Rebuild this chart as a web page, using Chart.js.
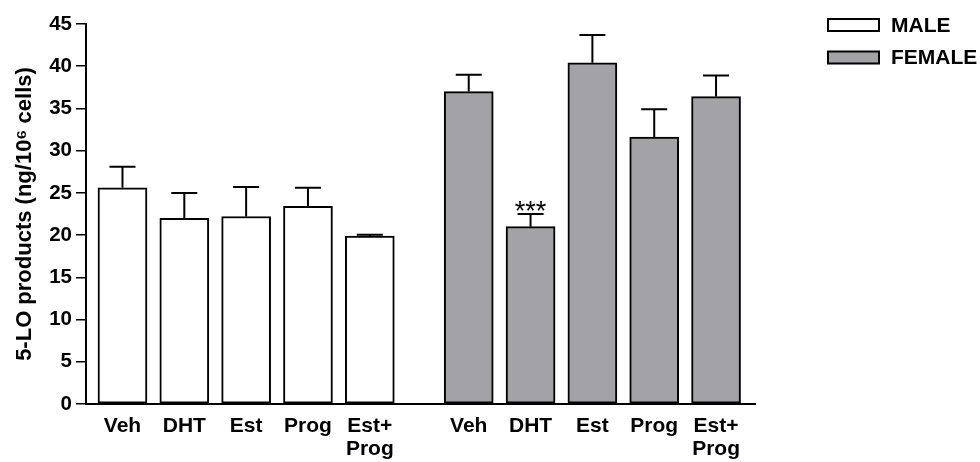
<!DOCTYPE html>
<html>
<head>
<meta charset="utf-8">
<title>5-LO products by treatment</title>
<script src="https://cdn.jsdelivr.net/npm/chart.js@4.4.0/dist/chart.umd.min.js"></script>
<style>
  body { margin: 0; background: #fff; }
  #wrap { width: 980px; height: 462px; }
</style>
</head>
<body>
<div id="wrap"><canvas id="myChart" width="980" height="462"></canvas></div>
<script>
// Treatments (tick labels) and measured values, mean + SEM
const treatments = ['Veh', 'DHT', 'Est', 'Prog', ['Est+', 'Prog']];
const maleMean = [25.6, 22.0, 22.2, 23.4, 19.9];
const maleSem = [2.5, 3.0, 3.5, 2.2, 0.15];
const femaleMean = [37.0, 21.0, 40.4, 31.6, 36.4];
const femaleSem = [2.0, 1.5, 3.3, 3.3, 2.5];
const femaleSig = ['', '***', '', '', ''];
const yTicks = [0, 5, 10, 15, 20, 25, 30, 35, 40, 45];

const FONT = "'Liberation Sans', Arial, sans-serif";
const FEMALE_GRAY = '#a3a2a7';
const GROUP_GAP = 0.6; // extra space between the male and female blocks

// bar positions on a linear x axis: male block, then female block
const malePos = treatments.map((t, i) => i);
const femalePos = treatments.map((t, i) => i + treatments.length + GROUP_GAP);
const allPos = malePos.concat(femalePos);

function labelAt(value) {
    const idx = allPos.findIndex(p => Math.abs(p - value) < 1e-6);
    if (idx < 0) return '';
    return treatments[idx % treatments.length];
}

// Upper error bars and significance marks
const errorBars = {
    id: 'errorBars',
    afterDatasetsDraw(chart) {
        const ctx = chart.ctx;
        const y = chart.scales.y;
        chart.data.datasets.forEach((ds, di) => {
            const meta = chart.getDatasetMeta(di);
            meta.data.forEach((bar, i) => {
                const top = y.getPixelForValue(ds.data[i].y);
                const cap = y.getPixelForValue(ds.data[i].y + ds.sem[i]);
                ctx.save();
                ctx.strokeStyle = '#000';
                ctx.lineWidth = 2;
                ctx.beginPath();
                ctx.moveTo(bar.x, top);
                ctx.lineTo(bar.x, cap);
                ctx.moveTo(bar.x - 13, cap);
                ctx.lineTo(bar.x + 13, cap);
                ctx.stroke();
                if (ds.sig && ds.sig[i]) {
                    ctx.fillStyle = '#000';
                    ctx.font = '27px ' + FONT;
                    ctx.textAlign = 'center';
                    ctx.textBaseline = 'alphabetic';
                    ctx.fillText(ds.sig[i], bar.x, cap + 6);
                }
                ctx.restore();
            });
        });
    }
};

// Legend box in the top right corner
const sideLegend = {
    id: 'sideLegend',
    afterDraw(chart) {
        const ctx = chart.ctx;
        ctx.save();
        chart.data.datasets.forEach((ds, i) => {
            const top = 19 + i * 32.5;
            ctx.fillStyle = ds.backgroundColor;
            ctx.fillRect(828, top, 51, 12);
            ctx.strokeStyle = '#000';
            ctx.lineWidth = 2;
            ctx.strokeRect(828, top, 51, 12);
            ctx.fillStyle = '#000';
            ctx.font = 'bold 21px ' + FONT;
            ctx.textAlign = 'left';
            ctx.textBaseline = 'middle';
            ctx.fillText(ds.label, 891, top + 7);
        });
        ctx.restore();
    }
};

const ctx = document.getElementById('myChart').getContext('2d');
const myChart = new Chart(ctx, {
    type: 'bar',
    data: {
        datasets: [{
            label: 'MALE',
            data: maleMean.map((v, i) => ({ x: malePos[i], y: v })),
            sem: maleSem,
            backgroundColor: '#ffffff',
            borderColor: '#000000',
            borderWidth: 2,
            borderSkipped: false,
            barThickness: 49,
            grouped: false
        }, {
            label: 'FEMALE',
            data: femaleMean.map((v, i) => ({ x: femalePos[i], y: v })),
            sem: femaleSem,
            sig: femaleSig,
            backgroundColor: FEMALE_GRAY,
            borderColor: '#000000',
            borderWidth: 2,
            borderSkipped: false,
            barThickness: 49,
            grouped: false
        }]
    },
    options: {
        responsive: false,
        animation: false,
        devicePixelRatio: 1,
        layout: { padding: { top: 24, right: 225, bottom: 0, left: 0 } },
        plugins: {
            legend: { display: false },
            tooltip: { enabled: false }
        },
        scales: {
            x: {
                type: 'linear',
                offset: false,
                min: -0.59,
                max: 10.23,
                grid: { display: false, drawTicks: false },
                border: { display: true, color: '#000', width: 2 },
                afterBuildTicks: scale => {
                    scale.ticks = allPos.map(v => ({ value: v }));
                },
                afterFit: scale => { scale.height = 58; },
                ticks: {
                    autoSkip: false,
                    maxRotation: 0,
                    padding: 11,
                    color: '#000',
                    font: { family: FONT, size: 21, weight: 'bold', lineHeight: 1.1 },
                    callback: value => labelAt(value)
                }
            },
            y: {
                min: 0,
                max: 45,
                afterBuildTicks: scale => {
                    scale.ticks = yTicks.map(v => ({ value: v }));
                },
                afterFit: scale => { scale.width = 86; },
                grid: {
                    drawOnChartArea: false,
                    drawTicks: true,
                    tickLength: 10,
                    color: '#000',
                    lineWidth: 1.5
                },
                border: { display: true, color: '#000', width: 2 },
                ticks: {
                    padding: 4,
                    color: '#000',
                    font: { family: FONT, size: 20.5, weight: 'bold' }
                },
                title: {
                    display: true,
                    text: '5-LO products (ng/10\u2076 cells)',
                    color: '#000',
                    padding: { top: 12, bottom: 0 },
                    font: { family: FONT, size: 22, weight: 'bold' }
                }
            }
        }
    },
    plugins: [errorBars, sideLegend]
});
</script>
</body>
</html>
